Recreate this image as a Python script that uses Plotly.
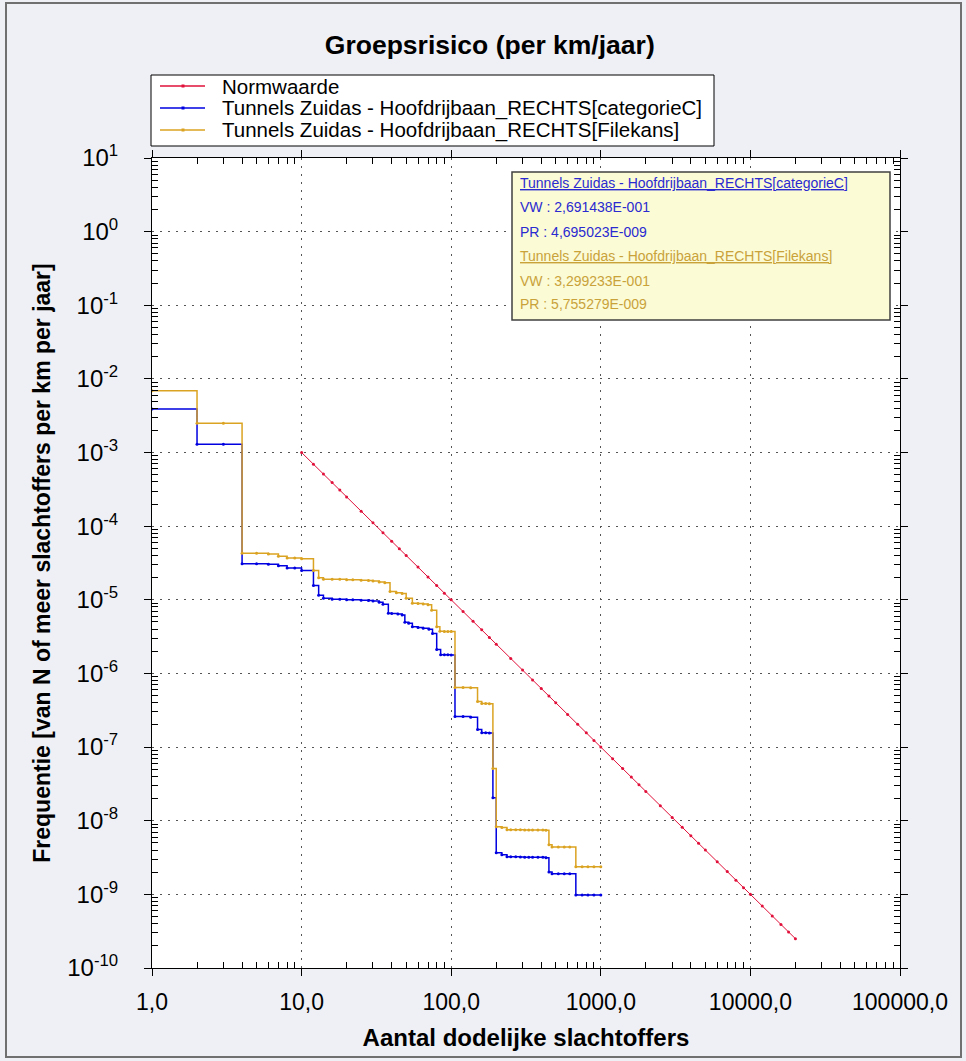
import plotly.graph_objects as go

# Normwaarde (orientatiewaarde per km)
norm_n = [10, 12, 14, 16, 18, 20, 25, 30, 35, 40, 45, 50, 60, 70, 80, 90,
          100, 120, 140, 160, 180, 200, 250, 300, 350, 400, 450, 500, 600, 700, 800, 900,
          1000, 1200, 1400, 1600, 1800, 2000, 2500, 3000, 3500, 4000, 4500, 5000, 6000, 7000, 8000, 9000,
          10000, 12000, 14000, 16000, 18000, 20000]
norm_f = [1e-3, 6.94e-4, 5.10e-4, 3.91e-4, 3.09e-4, 2.5e-4, 1.6e-4, 1.11e-4, 8.16e-5, 6.25e-5, 4.94e-5, 4e-5, 2.78e-5, 2.04e-5, 1.56e-5, 1.23e-5,
          1e-5, 6.94e-6, 5.10e-6, 3.91e-6, 3.09e-6, 2.5e-6, 1.6e-6, 1.11e-6, 8.16e-7, 6.25e-7, 4.94e-7, 4e-7, 2.78e-7, 2.04e-7, 1.56e-7, 1.23e-7,
          1e-7, 6.94e-8, 5.10e-8, 3.91e-8, 3.09e-8, 2.5e-8, 1.6e-8, 1.11e-8, 8.16e-9, 6.25e-9, 4.94e-9, 4e-9, 2.78e-9, 2.04e-9, 1.56e-9, 1.23e-9,
          1e-9, 6.94e-10, 5.10e-10, 3.91e-10, 3.09e-10, 2.5e-10]

# Tunnels Zuidas - Hoofdrijbaan_RECHTS[categorieC]
cat_n = [1, 2, 3, 4, 5, 6, 7, 8, 9, 10, 12, 13, 14, 16, 18, 20, 22, 25, 28, 30, 33, 35,
         38, 40, 44, 47, 49, 52, 55, 60, 65, 71, 75, 80, 85, 90, 95, 100,
         106, 120, 135, 150, 160, 170, 180, 190, 200, 218, 236, 250, 270, 290, 310,
         330, 350, 380, 410, 430, 450, 472, 520, 570, 620, 681, 750, 820, 900, 1000]
cat_f = [3.9e-3, 1.3e-3, 1.3e-3, 3.1e-5, 3.1e-5, 3.05e-5, 2.9e-5, 2.7e-5, 2.7e-5, 2.5e-5, 1.57e-5, 1.15e-5,
         1.05e-5, 1.02e-5, 1.02e-5, 1.0e-5, 1.0e-5, 9.9e-6, 9.8e-6, 9.6e-6, 9.3e-6, 8.7e-6,
         6.55e-6, 6.5e-6, 6.4e-6, 6.2e-6, 4.94e-6, 4.8e-6, 4.3e-6, 4.2e-6, 4.1e-6, 3.97e-6, 3.5e-6, 2.12e-6,
         1.8e-6, 1.8e-6, 1.8e-6, 1.78e-6,
         2.6e-7, 2.6e-7, 2.55e-7, 1.73e-7, 1.57e-7, 1.57e-7, 1.55e-7, 2.05e-8, 3.67e-9, 3.45e-9, 3.24e-9,
         3.24e-9, 3.24e-9, 3.22e-9, 3.2e-9, 3.2e-9, 3.2e-9, 3.18e-9, 3.18e-9, 3.15e-9, 2.02e-9, 1.9e-9,
         1.9e-9, 1.9e-9, 1.9e-9, 9.8e-10, 9.8e-10, 9.8e-10, 9.8e-10, 9.8e-10]

# Tunnels Zuidas - Hoofdrijbaan_RECHTS[Filekans]
fil_n = [1, 2, 3, 4, 5, 6, 7, 8, 9, 10, 12, 13, 14, 16, 18, 20, 22, 25, 28, 30, 33, 36,
         39, 43, 47, 50, 55, 60, 65, 70, 74, 80, 84, 90, 95, 100,
         106, 120, 135, 150, 160, 170, 180, 190, 200, 218, 236, 250, 270, 290, 310,
         330, 350, 380, 410, 430, 450, 472, 520, 570, 620, 681, 750, 820, 900, 1000]
fil_f = [6.9e-3, 2.5e-3, 2.5e-3, 4.3e-5, 4.3e-5, 4.2e-5, 3.9e-5, 3.7e-5, 3.7e-5, 3.6e-5, 2.5e-5, 2.0e-5,
         1.9e-5, 1.9e-5, 1.9e-5, 1.88e-5, 1.87e-5, 1.85e-5, 1.83e-5, 1.8e-5, 1.75e-5, 1.7e-5,
         1.3e-5, 1.25e-5, 1.22e-5, 1.05e-5, 8.96e-6, 8.9e-6, 8.8e-6, 8.6e-6, 7.2e-6, 4.3e-6, 3.73e-6,
         3.7e-6, 3.7e-6, 3.7e-6,
         6.46e-7, 6.46e-7, 6.4e-7, 4.16e-7, 3.9e-7, 3.9e-7, 3.88e-7, 5.1e-8, 8.3e-9, 8.1e-9, 7.55e-9,
         7.55e-9, 7.55e-9, 7.52e-9, 7.5e-9, 7.5e-9, 7.5e-9, 7.5e-9, 7.48e-9, 7.45e-9, 4.7e-9, 4.4e-9,
         4.4e-9, 4.4e-9, 4.4e-9, 2.37e-9, 2.37e-9, 2.37e-9, 2.37e-9, 2.37e-9]

x_ticks = [1, 10, 100, 1000, 10000, 100000]
x_labels = ["1,0", "10,0", "100,0", "1000,0", "10000,0", "100000,0"]
y_exps = [1, 0, -1, -2, -3, -4, -5, -6, -7, -8, -9, -10]

series_names = ["Normwaarde",
                "Tunnels Zuidas - Hoofdrijbaan_RECHTS[categorieC]",
                "Tunnels Zuidas - Hoofdrijbaan_RECHTS[Filekans]"]

info_lines = [
    ("<u>Tunnels Zuidas - Hoofdrijbaan_RECHTS[categorieC]</u>", "#2a2ad0"),
    ("VW : 2,691438E-001", "#2a2ad0"),
    ("PR : 4,695023E-009", "#2a2ad0"),
    ("<u>Tunnels Zuidas - Hoofdrijbaan_RECHTS[Filekans]</u>", "#c9a23a"),
    ("VW : 3,299233E-001", "#c9a23a"),
    ("PR : 5,755279E-009", "#c9a23a"),
]

RED = "#e0103a"
BLUE = "#0000e0"
GOLD = "#dba322"
colors = [RED, BLUE, GOLD]
FONT = "Liberation Sans, Arial, sans-serif"

W, H = 966, 1061
L, R, T, B = 152, 900, 158, 968


def px(x):
    return (x - L) / (R - L)


def py(y):
    return (B - y) / (B - T)


fig = go.Figure()
fig.add_trace(go.Scatter(
    x=norm_n, y=norm_f, name=series_names[0], mode="lines+markers",
    line=dict(color=RED, width=1), marker=dict(color=RED, size=3)
))
fig.add_trace(go.Scatter(
    x=cat_n, y=cat_f, name=series_names[1],
    mode="lines+markers", line=dict(color=BLUE, width=1.5, shape="hv"),
    marker=dict(color=BLUE, size=3)
))
fig.add_trace(go.Scatter(
    x=fil_n, y=fil_f, name=series_names[2],
    mode="lines+markers", line=dict(color=GOLD, width=1.5, shape="hv"),
    marker=dict(color=GOLD, size=3)
))

minor_x = [m * 10 ** k for k in range(0, 5) for m in range(2, 10)]
minor_y = [m * 10.0 ** k for k in range(-10, 1) for m in range(2, 10)]

axis_common = dict(
    type="log", showline=True, linecolor="black", linewidth=1, mirror="ticks",
    ticks="outside", ticklen=7, tickcolor="black",
    showgrid=True, gridcolor="#555555", griddash="2px,6px", gridwidth=1,
    zeroline=False,
)

fig.update_layout(
    width=W, height=H,
    margin=dict(l=L, r=W - R, t=T, b=H - B),
    paper_bgcolor="#eff0f6", plot_bgcolor="white",
    font=dict(family=FONT, color="black"),
    title=dict(
        text="<b>Groepsrisico (per km/jaar)</b>", x=0.507, xanchor="center",
        y=1 - 45 / H, yanchor="middle", font=dict(family=FONT, size=26.5, color="black")
    ),
    xaxis=dict(
        axis_common, range=[0, 5], tickmode="array", tickvals=x_ticks, ticktext=x_labels,
        ticklabelstandoff=6, tickfont=dict(family=FONT, size=23, color="black"),
        minor=dict(tickmode="array", tickvals=minor_x, ticks="inside", ticklen=6,
                   tickcolor="black", showgrid=False),
        title=dict(text="<b>Aantal dodelijke slachtoffers</b>", standoff=15,
                   font=dict(family=FONT, size=24, color="black")),
    ),
    yaxis=dict(
        axis_common, range=[-10, 1], tickmode="array",
        tickvals=[10.0 ** e for e in y_exps],
        ticktext=["10<sup>%d</sup>" % e for e in y_exps],
        ticklabelstandoff=21, tickfont=dict(family=FONT, size=24, color="black"),
        minor=dict(tickmode="array", tickvals=minor_y, ticks="inside", ticklen=6,
                   tickcolor="black", showgrid=False),
        title=dict(text="<b>Frequentie [van N of meer slachtoffers per km per jaar]</b>",
                   standoff=10, font=dict(family=FONT, size=23, color="black")),
    ),
    showlegend=False,
)

# outer panel frame
fig.add_shape(type="rect", xref="paper", yref="paper",
              x0=px(6), x1=px(961), y0=py(1057), y1=py(3),
              line=dict(color="#707070", width=2), fillcolor="rgba(0,0,0,0)", layer="below")

# legend box (drawn by hand for the tight row spacing of the original)
fig.add_shape(type="rect", xref="paper", yref="paper",
              x0=px(151), x1=px(714), y0=py(146), y1=py(75),
              line=dict(color="black", width=1), fillcolor="white")
for i, (name, col) in enumerate(zip(series_names, colors)):
    yy = 86 + 22 * i
    fig.add_shape(type="line", xref="paper", yref="paper",
                  x0=px(160), x1=px(205), y0=py(yy), y1=py(yy),
                  line=dict(color=col, width=1.5))
    fig.add_shape(type="rect", xref="paper", yref="paper",
                  x0=px(181.5), x1=px(184.5), y0=py(yy + 1.5), y1=py(yy - 1.5),
                  line=dict(width=0), fillcolor=col)
    fig.add_annotation(
        x=px(220), y=py(yy), xref="paper", yref="paper", xanchor="left", yanchor="middle",
        text=name, showarrow=False, font=dict(family=FONT, size=20.5, color="black")
    )

# info box
fig.add_shape(type="rect", xref="paper", yref="paper",
              x0=px(512), x1=px(890), y0=py(320), y1=py(172),
              line=dict(color="#404040", width=1.5), fillcolor="#fbfbd6")
row_y = [183, 207, 232, 256, 281, 304]
for (txt, col), yy in zip(info_lines, row_y):
    fig.add_annotation(
        x=px(518), y=py(yy), xref="paper", yref="paper", xanchor="left", yanchor="middle",
        text=txt, showarrow=False, font=dict(family=FONT, size=14, color=col)
    )

fig.write_html("out.html", config={"displayModeBar": False},
               post_script="document.body.style.margin='0';")
